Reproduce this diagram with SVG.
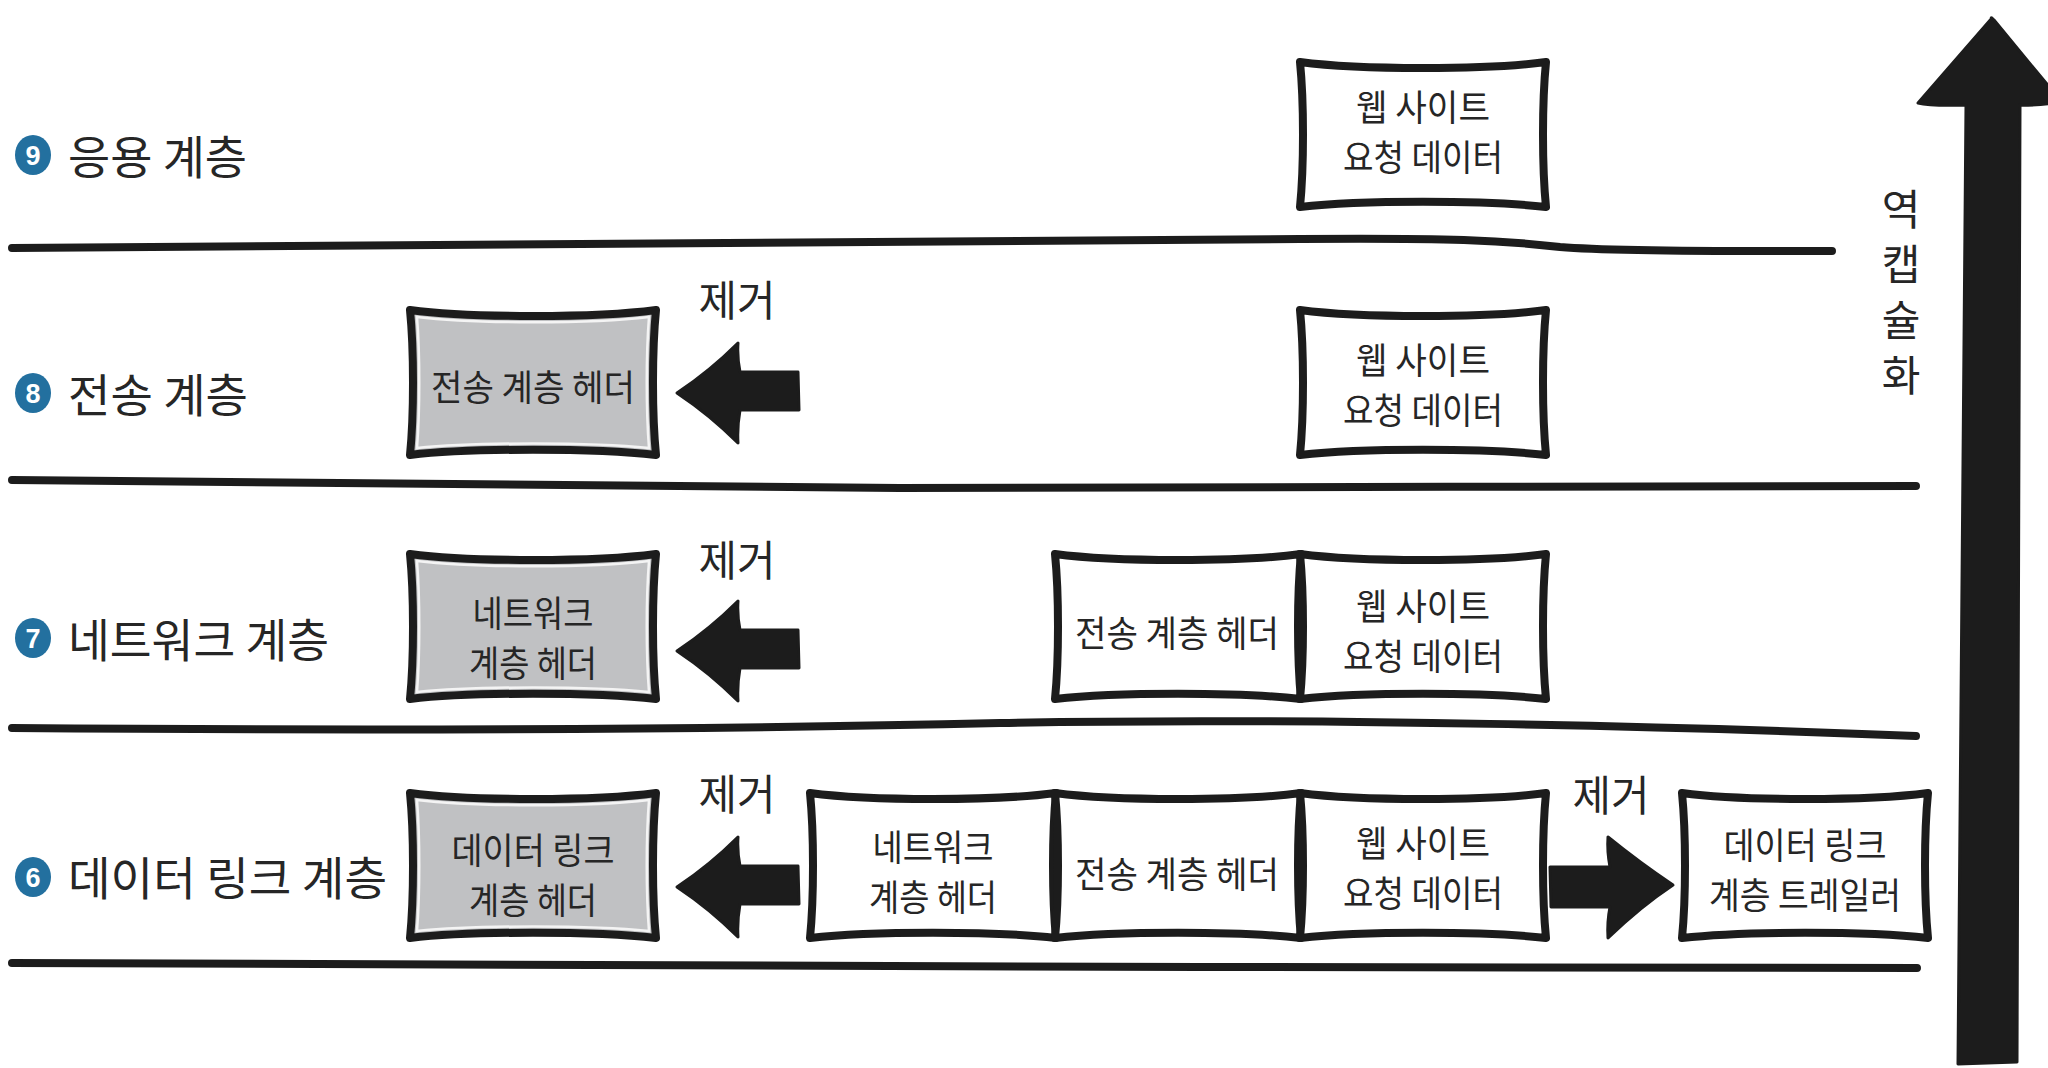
<svg xmlns="http://www.w3.org/2000/svg" xmlns:xlink="http://www.w3.org/1999/xlink" width="2048" height="1068" viewBox="0 0 2048 1068">
<style>
text{font-family:"Noto Sans CJK KR","Noto Sans",sans-serif;fill:#262626;dominant-baseline:central}
.lbl{font-size:46px}
.bt{font-size:36px;text-anchor:middle}
.rm{font-size:42px;text-anchor:middle}
.num{font-family:"Liberation Sans","DejaVu Sans",sans-serif;font-size:27px;font-weight:bold;fill:#fff;text-anchor:middle}
.dot{fill:#23709f}
.wbox{fill:#fff;stroke:#1c1c1c;stroke-width:8;stroke-linejoin:round}
.gbox{fill:#c0c1c3;stroke:#1c1c1c;stroke-width:8;stroke-linejoin:round}
.inner{fill:none;stroke:#f4f4f4;stroke-width:2.5}
.layer{fill:none;stroke:#1c1c1c;stroke-width:8;stroke-linecap:round}
.arr{fill:#1c1c1c;stroke:#1c1c1c;stroke-width:3;stroke-linejoin:round}
</style>
<defs>
<path id="box" d="M0,0 C60,8 186,8 246,0 C242,40 242,105 246,145 C186,138 60,138 0,145 C4,105 4,40 0,0 Z"/>
<path id="boxin" d="M7,7 C64,14 182,14 239,7 C236,45 236,100 239,138 C182,132 64,132 7,138 C10,100 10,45 7,7 Z"/>
<path id="larr" d="M0,0 Q33,-22 61,-50 Q60,-36 63,-21 L121,-21 L122,17 L63,17 Q60,34 61,50 Q33,22 0,0 Z"/>
<path id="rarr" d="M0,0 Q-33,-22 -65,-48 Q-66,-34 -63,-18 L-123,-18 L-122,22 L-63,22 Q-66,37 -65,53 Q-33,22 0,0 Z"/>
</defs>

<g id="layer-labels">
  <g id="label-9">
    <ellipse class="dot" cx="33" cy="155" rx="18" ry="20"/>
    <text class="num" x="33" y="156">9</text>
    <text class="lbl" x="68" y="154" textLength="179" lengthAdjust="spacingAndGlyphs">응용 계층</text>
  </g>
  <g id="label-8">
    <ellipse class="dot" cx="33" cy="393" rx="18" ry="20"/>
    <text class="num" x="33" y="394">8</text>
    <text class="lbl" x="68" y="392" textLength="180" lengthAdjust="spacingAndGlyphs">전송 계층</text>
  </g>
  <g id="label-7">
    <ellipse class="dot" cx="33" cy="638" rx="18" ry="20"/>
    <text class="num" x="33" y="639">7</text>
    <text class="lbl" x="68" y="637" textLength="261" lengthAdjust="spacingAndGlyphs">네트워크 계층</text>
  </g>
  <g id="label-6">
    <ellipse class="dot" cx="33" cy="877" rx="18" ry="20"/>
    <text class="num" x="33" y="878">6</text>
    <text class="lbl" x="68" y="875" textLength="319" lengthAdjust="spacingAndGlyphs">데이터 링크 계층</text>
  </g>
</g>

<g id="connectors">
  <path class="layer" d="M12,248 C400,247 900,240 1300,239 C1450,238 1500,240 1560,247 C1620,252 1750,251 1832,251"/>
  <path class="layer" d="M12,480 C300,483 600,488 900,488 C1200,488 1600,486 1916,486"/>
  <path class="layer" d="M12,728 C400,731 700,730 1000,723 C1300,717 1700,727 1916,736"/>
  <path class="layer" d="M12,963 C400,966 800,968 1200,967 C1500,966 1750,967 1917,968"/>
  <use href="#larr" class="arr" x="677" y="393"/>
  <use href="#larr" class="arr" x="677" y="651"/>
  <use href="#larr" class="arr" x="677" y="887"/>
  <use href="#rarr" class="arr" x="1673" y="885"/>
  <path class="arr" d="M1992,18 Q1990,17 1994,20 L2060,100 Q2050,106 2020,105 L2017,1062 L1958,1064 L1966,105 Q1930,106 1918,103 Z"/>
  <text class="rm" x="737" y="297" textLength="77" lengthAdjust="spacingAndGlyphs">제거</text>
  <text class="rm" x="737" y="557" textLength="77" lengthAdjust="spacingAndGlyphs">제거</text>
  <text class="rm" x="737" y="791" textLength="77" lengthAdjust="spacingAndGlyphs">제거</text>
  <text class="rm" x="1611" y="792" textLength="77" lengthAdjust="spacingAndGlyphs">제거</text>
  <g id="decap-label">
    <text class="rm" x="1901" y="206">역</text>
    <text class="rm" x="1901" y="261">캡</text>
    <text class="rm" x="1901" y="317">슐</text>
    <text class="rm" x="1901" y="372">화</text>
  </g>
</g>

<g id="row9-data">
  <use href="#box" class="wbox" x="1300" y="62"/>
  <text class="bt" x="1423" y="105" textLength="134" lengthAdjust="spacingAndGlyphs">웹 사이트</text>
  <text class="bt" x="1423" y="155" textLength="160" lengthAdjust="spacingAndGlyphs">요청 데이터</text>
</g>

<g id="row8-transport-header">
  <use href="#box" class="gbox" x="410" y="310"/>
  <use href="#boxin" class="inner" x="410" y="310"/>
  <text class="bt" x="533" y="385" textLength="204" lengthAdjust="spacingAndGlyphs">전송 계층 헤더</text>
</g>
<g id="row8-data">
  <use href="#box" class="wbox" x="1300" y="310"/>
  <text class="bt" x="1423" y="358" textLength="134" lengthAdjust="spacingAndGlyphs">웹 사이트</text>
  <text class="bt" x="1423" y="408" textLength="160" lengthAdjust="spacingAndGlyphs">요청 데이터</text>
</g>

<g id="row7-network-header">
  <use href="#box" class="gbox" x="410" y="554"/>
  <use href="#boxin" class="inner" x="410" y="554"/>
  <text class="bt" x="533" y="611" textLength="121" lengthAdjust="spacingAndGlyphs">네트워크</text>
  <text class="bt" x="533" y="661" textLength="128" lengthAdjust="spacingAndGlyphs">계층 헤더</text>
</g>
<g id="row7-transport-header">
  <use href="#box" class="wbox" x="1055" y="554"/>
  <text class="bt" x="1177" y="631" textLength="204" lengthAdjust="spacingAndGlyphs">전송 계층 헤더</text>
</g>
<g id="row7-data">
  <use href="#box" class="wbox" x="1300" y="554"/>
  <text class="bt" x="1423" y="604" textLength="134" lengthAdjust="spacingAndGlyphs">웹 사이트</text>
  <text class="bt" x="1423" y="654" textLength="160" lengthAdjust="spacingAndGlyphs">요청 데이터</text>
</g>

<g id="row6-datalink-header">
  <use href="#box" class="gbox" x="410" y="793"/>
  <use href="#boxin" class="inner" x="410" y="793"/>
  <text class="bt" x="533" y="848" textLength="163" lengthAdjust="spacingAndGlyphs">데이터 링크</text>
  <text class="bt" x="533" y="898" textLength="128" lengthAdjust="spacingAndGlyphs">계층 헤더</text>
</g>
<g id="row6-network-header">
  <use href="#box" class="wbox" x="810" y="793"/>
  <text class="bt" x="933" y="845" textLength="121" lengthAdjust="spacingAndGlyphs">네트워크</text>
  <text class="bt" x="933" y="895" textLength="128" lengthAdjust="spacingAndGlyphs">계층 헤더</text>
</g>
<g id="row6-transport-header">
  <use href="#box" class="wbox" x="1055" y="793"/>
  <text class="bt" x="1177" y="872" textLength="204" lengthAdjust="spacingAndGlyphs">전송 계층 헤더</text>
</g>
<g id="row6-data">
  <use href="#box" class="wbox" x="1300" y="793"/>
  <text class="bt" x="1423" y="841" textLength="134" lengthAdjust="spacingAndGlyphs">웹 사이트</text>
  <text class="bt" x="1423" y="891" textLength="160" lengthAdjust="spacingAndGlyphs">요청 데이터</text>
</g>
<g id="row6-datalink-trailer">
  <use href="#box" class="wbox" x="1682" y="793"/>
  <text class="bt" x="1805" y="843" textLength="163" lengthAdjust="spacingAndGlyphs">데이터 링크</text>
  <text class="bt" x="1805" y="893" textLength="192" lengthAdjust="spacingAndGlyphs">계층 트레일러</text>
</g>
</svg>
